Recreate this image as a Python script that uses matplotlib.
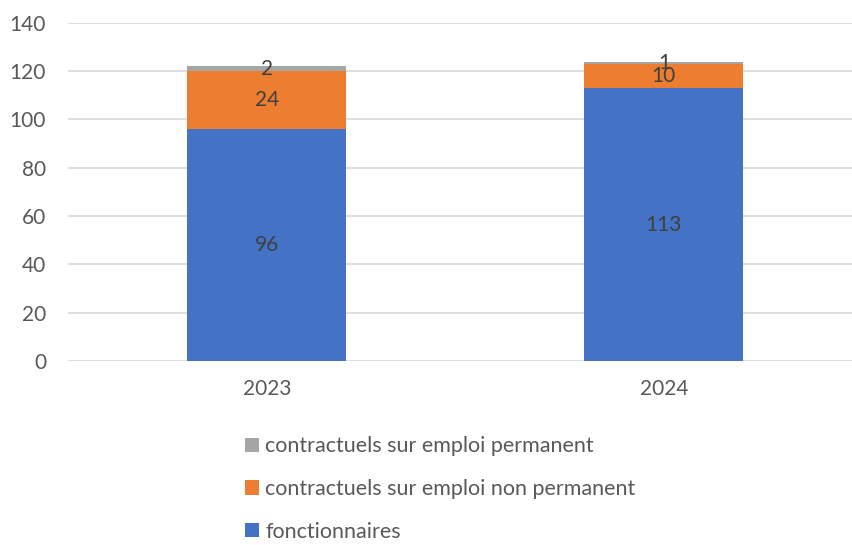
import numpy as np
import matplotlib.pyplot as plt

plt.rcParams['font.family'] = ['Lato', 'DejaVu Sans']

years = ['2023', '2024']
fonctionnaires = [96, 113]
non_permanent = [24, 10]
permanent = [2, 1]

c_blue = '#4472c4'
c_orange = '#ed7d31'
c_gray = '#a5a5a5'
txt = '#595959'

fig = plt.figure(figsize=(8.53, 5.45), dpi=100)
ax = fig.add_axes([0.080, 0.3376, 0.931, 0.6204])

x = np.arange(len(years))
w = 0.4
b1 = ax.bar(x, fonctionnaires, w, color=c_blue, label='fonctionnaires', zorder=2)
b2 = ax.bar(x, non_permanent, w, bottom=fonctionnaires, color=c_orange,
            label='contractuels sur emploi non permanent', zorder=2)
bottom3 = np.array(fonctionnaires) + np.array(non_permanent)
b3 = ax.bar(x, permanent, w, bottom=bottom3, color=c_gray,
            label='contractuels sur emploi permanent', zorder=2)

for bars in (b1, b2, b3):
    ax.bar_label(bars, label_type='center', color='#404040', fontsize=15)

ax.set_xlim(-0.5, 1.5)
ax.set_ylim(0, 140)
ax.set_yticks(range(0, 141, 20))
ax.set_xticks(x)
ax.set_xticklabels(years)
ax.tick_params(axis='both', length=0, labelsize=15, colors=txt)
ax.tick_params(axis='x', pad=13)
ax.tick_params(axis='y', pad=16)
ax.grid(axis='y', color='#d9d9d9', linewidth=1.2, zorder=0)
for s in ax.spines.values():
    s.set_visible(False)

h, l = ax.get_legend_handles_labels()
leg = fig.legend(h[::-1], l[::-1], loc='upper left', bbox_to_anchor=(0.277, 0.215),
                 frameon=False, fontsize=15.5, handlelength=0.65, handleheight=0.65,
                 handletextpad=0.3, labelspacing=1.05, borderaxespad=0)
for t in leg.get_texts():
    t.set_color(txt)

fig.savefig('out.png', dpi=100)
